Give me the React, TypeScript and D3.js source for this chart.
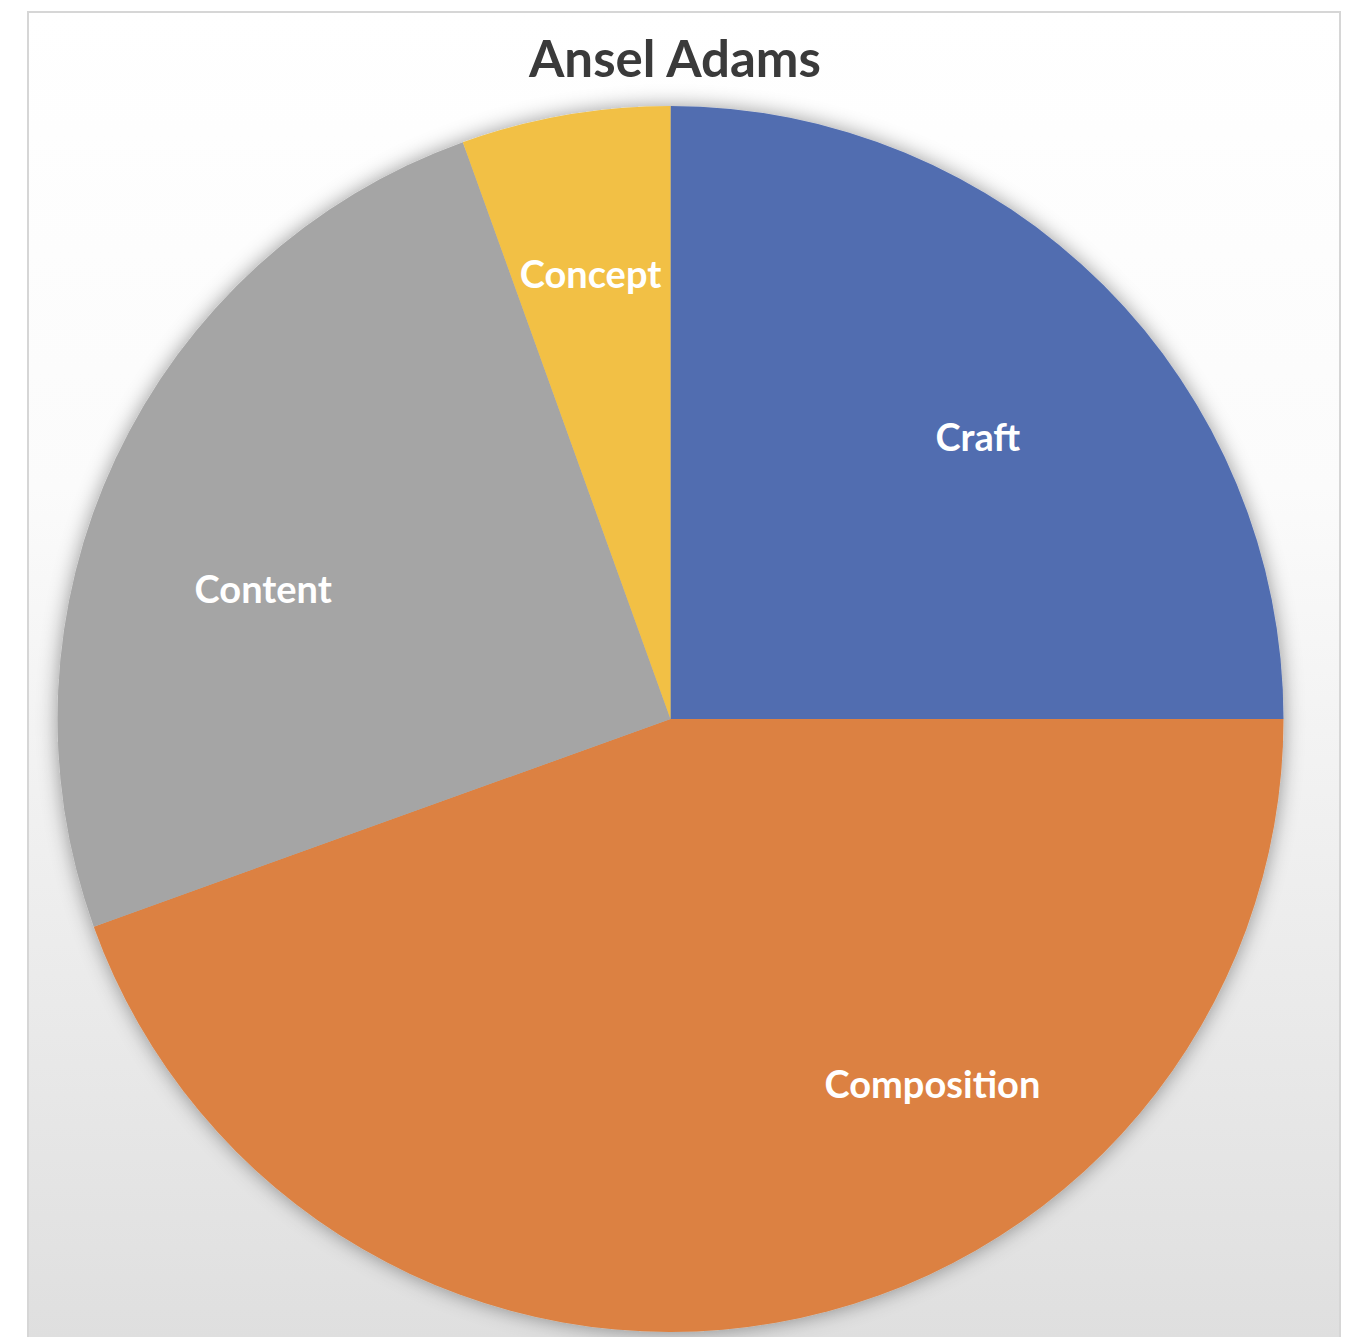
import React from "react";
import * as d3 from "d3";

const categories = ["Craft", "Composition", "Content", "Concept"];
const values = [25, 44.5, 25, 5.5];
const colors = ["#516db0", "#dc8142", "#a5a5a5", "#f2c044"];
const title = "Ansel Adams";

// label layout (angle shift from slice middle in degrees, radius fraction)
const labelAngleShift = [2.5, -25.7, -7.6, -0.3];
const labelRadiusFrac = [0.68, 0.734, 0.697, 0.737];

const W = 1352;
const H = 1337;

export default function App() {
  const cx = 670.5;
  const cy = 719;
  const r = 613;
  const data = categories.map((c, i) => ({ c, v: values[i], i }));
  const pie = d3.pie<any>().value((d) => d.v).sort(null);
  const arcs = pie(data);
  const arc = d3.arc<any>().innerRadius(0).outerRadius(r);

  return (
    <svg width={W} height={H} style={{ position: "absolute", left: 0, top: 0 }}>
      <defs>
        <linearGradient id="bg" x1="0" y1="0" x2="0" y2="1">
          <stop offset="0" stopColor="#ffffff" />
          <stop offset="0.35" stopColor="#fbfbfb" />
          <stop offset="1" stopColor="#dedede" />
        </linearGradient>
        <filter id="sh" x="-10%" y="-10%" width="120%" height="120%">
          <feDropShadow dx="0" dy="0" stdDeviation="10" floodColor="#000" floodOpacity="0.4" />
        </filter>
      </defs>
      <rect x={0} y={0} width={W} height={H} fill="#ffffff" />
      <rect x={28} y={12} width={1312} height={H + 20} fill="url(#bg)" stroke="#d6d6d6" strokeWidth={2} />
      <text
        x={675}
        y={77}
        textAnchor="middle"
        fontFamily="Lato, 'Open Sans', sans-serif"
        fontWeight="bold"
        fontSize={51}
        fill="#3a3a3a"
      >
        {title}
      </text>
      <g transform={`translate(${cx},${cy})`}>
        <g filter="url(#sh)">
          {arcs.map((a, i) => (
            <path key={i} d={arc(a) as string} fill={colors[i]} />
          ))}
        </g>
        {arcs.map((a, i) => {
          const mid = (a.startAngle + a.endAngle) / 2 + (labelAngleShift[i] * Math.PI) / 180;
          const rr = r * labelRadiusFrac[i];
          const x = Math.sin(mid) * rr;
          const y = -Math.cos(mid) * rr;
          return (
            <text
              key={i}
              x={x}
              y={y}
              dy="0.35em"
              textAnchor="middle"
              fontFamily="Lato, 'Open Sans', sans-serif"
              fontWeight="bold"
              fontSize={38}
              fill="#ffffff"
            >
              {categories[i]}
            </text>
          );
        })}
      </g>
    </svg>
  );
}
